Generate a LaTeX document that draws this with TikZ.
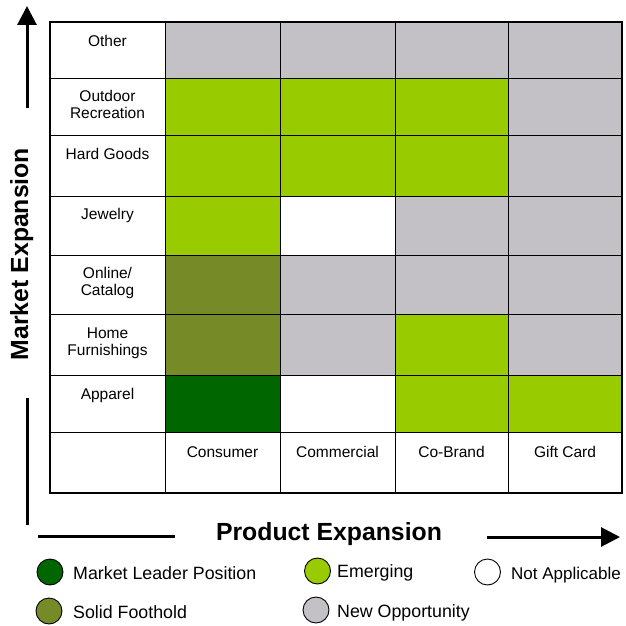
\documentclass[tikz,border=0pt]{standalone}
\usepackage{fontspec}
\setmainfont{Liberation Sans}
\usetikzlibrary{arrows.meta}
\definecolor{leader}{HTML}{006600}
\definecolor{foothold}{HTML}{778A28}
\definecolor{emerging}{HTML}{99CC00}
\definecolor{newopp}{HTML}{C4C1C6}
\tikzset{
  cell/.style={draw=black, line width=0.9pt},
  lbl/.style={anchor=base, inner sep=0pt, font=\fontsize{15.5}{17}\selectfont},
  leg/.style={anchor=base west, inner sep=0pt, font=\fontsize{17.8}{19}\selectfont},
  ttl/.style={inner sep=0pt, font=\fontsize{24.8}{26}\selectfont\bfseries},
  dot/.style={circle, draw=black, line width=0.9pt, minimum size=26pt, inner sep=0pt},
  axis/.style={line width=3pt},
  axisarrow/.style={line width=3pt, -{Triangle[length=19pt,width=19pt]}}
}
\begin{document}
\begin{tikzpicture}[x=1pt,y=-1pt]
\useasboundingbox (0,0) rectangle (625,626);
% column edges: 50,165,280,395,508,622 ; row edges: 22,78,135,196,255,314,375,432,493
\def\cellfill#1#2#3#4#5{\fill[#5] (#1,#2) rectangle (#3,#4);}
% row Other
\cellfill{165}{22}{280}{78}{newopp}
\cellfill{280}{22}{395}{78}{newopp}
\cellfill{395}{22}{508}{78}{newopp}
\cellfill{508}{22}{622}{78}{newopp}
% Outdoor
\cellfill{165}{78}{280}{135}{emerging}
\cellfill{280}{78}{395}{135}{emerging}
\cellfill{395}{78}{508}{135}{emerging}
\cellfill{508}{78}{622}{135}{newopp}
% Hard goods
\cellfill{165}{135}{280}{196}{emerging}
\cellfill{280}{135}{395}{196}{emerging}
\cellfill{395}{135}{508}{196}{emerging}
\cellfill{508}{135}{622}{196}{newopp}
% Jewelry
\cellfill{165}{196}{280}{255}{emerging}
\cellfill{395}{196}{508}{255}{newopp}
\cellfill{508}{196}{622}{255}{newopp}
% Online
\cellfill{165}{255}{280}{314}{foothold}
\cellfill{280}{255}{395}{314}{newopp}
\cellfill{395}{255}{508}{314}{newopp}
\cellfill{508}{255}{622}{314}{newopp}
% Home
\cellfill{165}{314}{280}{375}{foothold}
\cellfill{280}{314}{395}{375}{newopp}
\cellfill{395}{314}{508}{375}{emerging}
\cellfill{508}{314}{622}{375}{newopp}
% Apparel
\cellfill{165}{375}{280}{432}{leader}
\cellfill{395}{375}{508}{432}{emerging}
\cellfill{508}{375}{622}{432}{emerging}
% grid lines
\foreach \x in {165,280,395,508} \draw[cell] (\x,22) -- (\x,493);
\foreach \y in {78,135,196,255,314,375,432} \draw[cell] (50,\y) -- (622,\y);
\draw[line width=2.2pt] (50,22) rectangle (622,493);
% row labels
\node[lbl] (rOther) at (107.5,47) {Other};
\node[lbl] (rOut1) at (107.5,101) {Outdoor};
\node[lbl] (rOut2) at (107.5,118) {Recreation};
\node[lbl] (rHard) at (107.5,159) {Hard Goods};
\node[lbl] (rJew) at (107.5,219) {Jewelry};
\node[lbl] (rOn1) at (107.5,278) {Online/};
\node[lbl] (rOn2) at (107.5,295) {Catalog};
\node[lbl] (rHome1) at (107.5,338) {Home};
\node[lbl] (rHome2) at (107.5,355) {Furnishings};
\node[lbl] (rApp) at (107.5,399) {Apparel};
% column labels
\node[lbl] (cCons) at (222.5,457) {Consumer};
\node[lbl] (cComm) at (337.5,457) {Commercial};
\node[lbl] (cCo) at (451.5,457) {Co-Brand};
\node[lbl] (cGift) at (565,457) {Gift Card};
% axes
\coordinate (vA) at (27,108);
\coordinate (vB) at (27,6);
\coordinate (vC) at (27,398);
\coordinate (vD) at (27,525);
\draw[axisarrow] (vA) -- (vB);
\draw[axis] (vC) -- (vD);
\node[ttl, rotate=90, anchor=base] (mexp) at (28,254) {Market Expansion};
\coordinate (hA) at (38,536);
\coordinate (hB) at (175,536);
\coordinate (hC) at (487,537);
\coordinate (hD) at (620,537);
\draw[axis] (hA) -- (hB);
\draw[axisarrow] (hC) -- (hD);
\node[ttl, anchor=base] (pexp) at (329,540) {Product Expansion};
% legend
\node[dot, fill=leader] (d1) at (50,572) {};
\node[leg] (t1) at (73,579) {Market Leader Position};
\node[dot, fill=foothold] (d2) at (49,611) {};
\node[leg] (t2) at (73,618) {Solid Foothold};
\node[dot, fill=emerging] (d3) at (317.5,571) {};
\node[leg] (t3) at (337,577) {Emerging};
\node[dot, fill=newopp] (d4) at (316,610) {};
\node[leg] (t4) at (337,617) {New Opportunity};
\node[dot, fill=white] (d5) at (487.5,572) {};
\node[leg, font=\fontsize{17}{19}\selectfont] (t5) at (511,579) {Not Applicable};
\end{tikzpicture}
\end{document}
